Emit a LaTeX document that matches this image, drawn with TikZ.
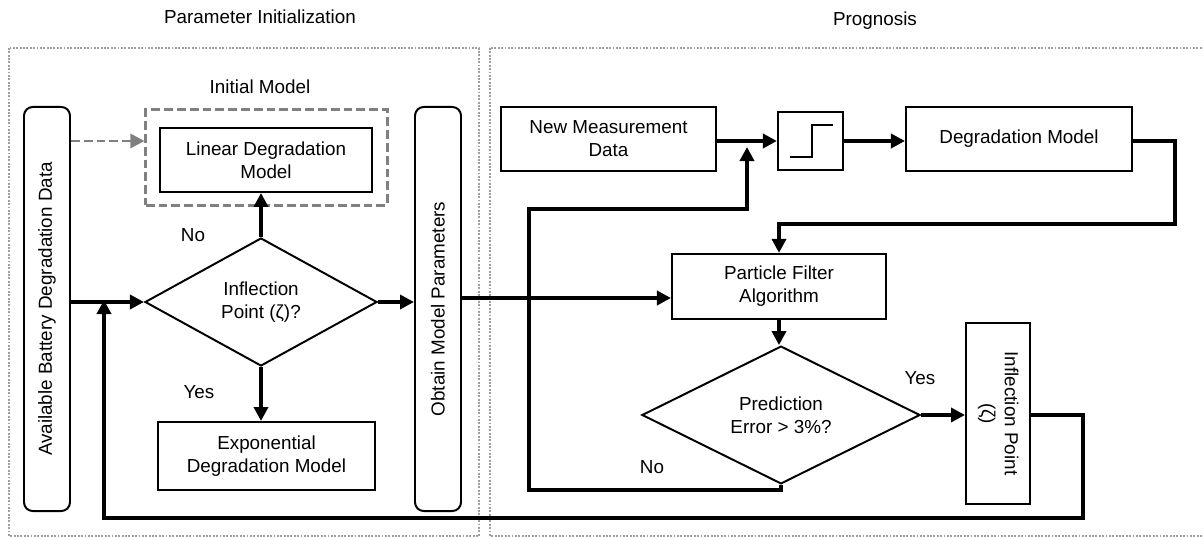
\documentclass[tikz,border=0pt]{standalone}
\usepackage{fontspec}
\usepackage{graphicx}
\setmainfont{Liberation Sans}
\usetikzlibrary{shapes.geometric,arrows.meta}

\begin{document}
\begin{tikzpicture}[x=0.025cm,y=-0.025cm,
	font=\fontsize{13.4}{16.3}\selectfont,
	box/.style={draw,line width=1.4pt,align=center,inner sep=0pt},
	rbox/.style={box,rounded corners=0.22cm},
	dec/.style={draw,diamond,line width=1.4pt,align=center,inner sep=0pt},
	flow/.style={line width=2.8pt,-{Triangle[length=0.35cm,width=0.35cm]}},
	frame/.style={gray!75,line width=1.5pt,dash pattern=on 1.3pt off 1.1pt},
	grayflow/.style={gray,line width=2pt,dash pattern=on 0.22cm off 0.1cm,
		-{Triangle[length=0.35cm,width=0.35cm]}}]
	
	\useasboundingbox (0,0) rectangle (1203,537);
	
	% frames
	\draw[frame] (9,48) rectangle (479,536);
	\draw[frame] (490,48) rectangle (1215,536);
	\node (tpar) at (260,17) {Parameter Initialization};
	\node (tprog) at (875,21) {Prognosis};
	\node (tinit) at (260,87) {Initial Model};
	
	% parameter initialization
	\node[rbox,minimum width=1.15cm,minimum height=10.1cm] (avail) at (47,309)
		{\rotatebox{90}{Available Battery Degradation Data}};
	\node[rbox,minimum width=1.15cm,minimum height=10.1cm] (obtain) at (438,309)
		{\rotatebox{90}{Obtain Model Parameters}};
	\node[draw=gray,line width=2pt,dash pattern=on 0.22cm off 0.1cm,
		minimum width=6.03cm,minimum height=2.38cm] (initbox) at (266.5,157.5) {};
	\node[box,minimum width=5.3cm,minimum height=1.6cm] (lin) at (266,160)
		{Linear Degradation\\Model};
	\node[dec,minimum width=5.8cm,minimum height=3.2cm] (infl) at (261,302)
		{Inflection\\Point (ζ)?};
	\node[box,minimum width=5.43cm,minimum height=1.7cm] (expo) at (266.5,456)
		{Exponential\\Degradation Model};
	
	% prognosis
	\node[box,minimum width=5.38cm,minimum height=1.6cm] (meas) at (608.5,139)
		{New Measurement\\Data};
	\node[box,minimum width=1.63cm,minimum height=1.45cm] (stepbox) at (810.5,141) {};
	\draw[line width=1.2pt] (790,157) -- (812,157) -- (812,125) -- (833,125);
	\node[box,minimum width=5.65cm,minimum height=1.6cm] (degm) at (1019,139)
		{Degradation Model};
	\node[box,minimum width=5.35cm,minimum height=1.63cm] (pf) at (779,286.5)
		{Particle Filter\\Algorithm};
	\node[dec,minimum width=6.95cm,minimum height=3.1cm] (err) at (781,415)
		{Prediction\\Error > 3\%?};
	\node[box,minimum width=1.6cm,minimum height=4.53cm] (ip) at (998,413.5)
		{\rotatebox{-90}{\begin{tabular}{@{}c@{}}Inflection Point\\(ζ)\end{tabular}}};
	
	\coordinate (j1) at (747,147);
	\coordinate (nocorner) at (529,490);
	\coordinate (noup) at (529,209);
	\coordinate (dmturn) at (1175,224);
	\coordinate (j2) at (104,300);
	\coordinate (retbot) at (104,518);
	
	% connectors
	\draw[grayflow] (avail.east |- 0,141) -- (initbox.west |- 0,141);
	\draw[flow] (infl.west -| avail.east) -- (infl.west);
	\draw[flow] (infl.north) -- (infl.north |- lin.south);
	\draw[flow] (infl.south) -- (infl.south |- expo.north);
	\draw[flow] (infl.east) -- (infl.east -| obtain.west);
	\draw[flow] (obtain.east |- 0,298) -- (pf.west |- 0,298);
	\draw[flow] (meas.east |- stepbox.west) -- (stepbox.west);
	\draw[flow] (stepbox.east) -- (stepbox.east -| degm.west);
	\draw[flow] (degm.east |- stepbox.east) -| (dmturn) -| (pf.north);
	\draw[flow] (pf.south) -- (pf.south |- err.north);
	\draw[flow] (err.east) -- (ip.west |- err.east);
	\draw[flow] (err.south) |- (nocorner) -- (noup) -| (j1);
	\draw[flow] (ip.east |- err.east) -- ++(52,0) |- (retbot) -- (j2);
	
	\node (noA) at (193,235) {No};
	\node (yesA) at (199,392) {Yes};
	\node (noB) at (652,467) {No};
	\node (yesB) at (920,378) {Yes};
	
\end{tikzpicture}
\end{document}
